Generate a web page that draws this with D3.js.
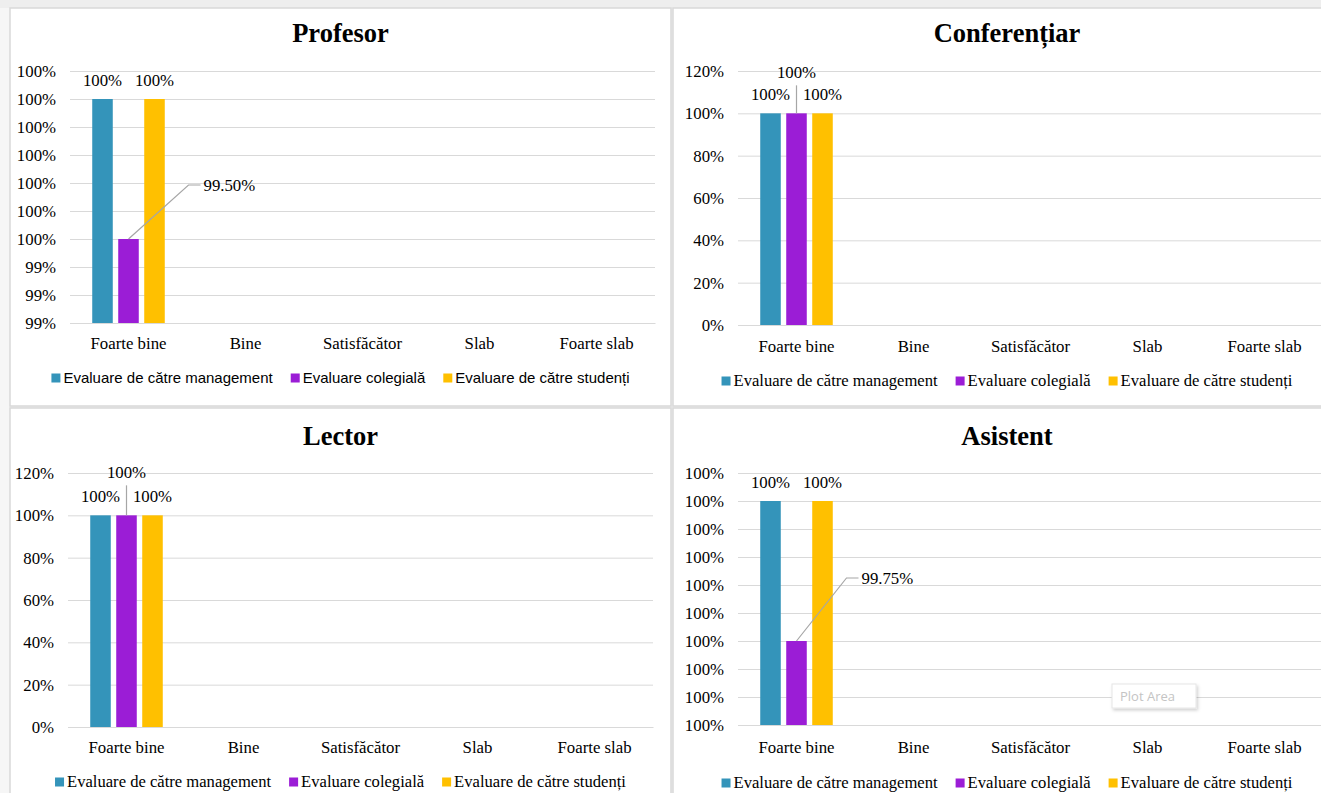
<!DOCTYPE html>
<html>
<head>
<meta charset="utf-8">
<script src="https://cdn.jsdelivr.net/npm/d3@7"></script>
<style>
    body { margin: 0; background: #eeeeee; overflow: hidden; }
</style>
</head>
<body>
<div id="chart"></div>
<script>
// categories and series
const categories = ["Foarte bine", "Bine", "Satisfăcător", "Slab", "Foarte slab"];
const seriesNames = ["Evaluare de către management", "Evaluare colegială", "Evaluare de către studenți"];
const seriesColors = ["#3494ba", "#9b1dd6", "#ffc000"];

// values per panel (null = no bar)
const profesorManagement = [1, null, null, null, null];
const profesorColegiala = [0.995, null, null, null, null];
const profesorStudenti = [1, null, null, null, null];

const conferentiarManagement = [1, null, null, null, null];
const conferentiarColegiala = [1, null, null, null, null];
const conferentiarStudenti = [1, null, null, null, null];

const lectorManagement = [1, null, null, null, null];
const lectorColegiala = [1, null, null, null, null];
const lectorStudenti = [1, null, null, null, null];

const asistentManagement = [1, null, null, null, null];
const asistentColegiala = [0.9975, null, null, null, null];
const asistentStudenti = [1, null, null, null, null];

// y tick values
const profesorTicks = [0.992, 0.993, 0.994, 0.995, 0.996, 0.997, 0.998, 0.999, 1.000, 1.001];
const percentTicks = [0, 0.2, 0.4, 0.6, 0.8, 1.0, 1.2];
const asistentTicks = [0.996, 0.9965, 0.997, 0.9975, 0.998, 0.9985, 0.999, 0.9995, 1.000, 1.0005];

const serif = "'Liberation Serif', 'Times New Roman', serif";
const sans = "'Liberation Sans', Arial, sans-serif";
const fs = 16.8;

const W = 1321, H = 793;
const svg = d3.select("#chart").append("svg")
    .attr("width", W)
    .attr("height", H);

const defs = svg.append("defs");
const shadow = defs.append("filter").attr("id", "shadow").attr("x", "-20%").attr("y", "-20%").attr("width", "150%").attr("height", "180%");
shadow.append("feDropShadow").attr("dx", 1.5).attr("dy", 2).attr("stdDeviation", 1.5).attr("flood-color", "#000").attr("flood-opacity", 0.18);

svg.append("rect").attr("x", 0).attr("y", 8).attr("width", 10).attr("height", H).attr("fill", "#f6f6f6");

const yPct = v => Math.round(+(v * 100).toFixed(6)) + "%";
const labelFmt = v => v === 1 ? "100%" : d3.format(".2%")(v);

const panels = [
    {
        title: "Profesor", values: [profesorManagement, profesorColegiala, profesorStudenti], ticks: profesorTicks,
        box: { x: 10, y: 8, w: 661, h: 398 }, titleY: 42,
        plot: { left: 70, right: 655, top: 71, bottom: 323 }, xPad: 14,
        legendY: 378, legendFont: sans, legendSize: 15,
        special: { dx: 75, dy: -54, elbow: true }
    },
    {
        title: "Conferențiar", values: [conferentiarManagement, conferentiarColegiala, conferentiarStudenti], ticks: percentTicks,
        box: { x: 673, y: 8, w: 668, h: 398 }, titleY: 42,
        plot: { left: 738, right: 1323, top: 71, bottom: 325 }, xPad: 15,
        legendY: 381, legendFont: serif, legendSize: 16.6,
        special: { dx: 0, dy: -41, elbow: false }
    },
    {
        title: "Lector", values: [lectorManagement, lectorColegiala, lectorStudenti], ticks: percentTicks,
        box: { x: 10, y: 408, w: 661, h: 400 }, titleY: 445,
        plot: { left: 68, right: 653, top: 473, bottom: 727 }, xPad: 14,
        legendY: 782, legendFont: serif, legendSize: 16.6,
        special: { dx: 0, dy: -43, elbow: false }
    },
    {
        title: "Asistent", values: [asistentManagement, asistentColegiala, asistentStudenti], ticks: asistentTicks,
        box: { x: 673, y: 408, w: 668, h: 400 }, titleY: 445,
        plot: { left: 738, right: 1323, top: 473, bottom: 725 }, xPad: 16,
        legendY: 783, legendFont: serif, legendSize: 16.6,
        special: { dx: 65, dy: -63, elbow: true }
    }
];

panels.forEach(drawPanel);

// "Plot Area" hover tip seen on the Asistent chart
const tip = svg.append("g").attr("transform", "translate(1112,684)");
tip.append("rect")
    .attr("width", 84).attr("height", 24)
    .attr("fill", "#fff").attr("stroke", "#e6e6e6")
    .attr("filter", "url(#shadow)");
tip.append("text")
    .attr("x", 8).attr("y", 17)
    .attr("font-family", "'Open Sans', sans-serif").attr("font-size", 13)
    .attr("fill", "#c4c4c4")
    .text("Plot Area");

function drawPanel(cfg) {
    const g = svg.append("g");
    const p = cfg.plot;

    // chart area
    g.append("rect")
        .attr("x", cfg.box.x).attr("y", cfg.box.y)
        .attr("width", cfg.box.w).attr("height", cfg.box.h)
        .attr("fill", "#fff").attr("stroke", "#d9d9d9").attr("stroke-width", 1.5);

    g.append("text")
        .attr("x", cfg.box.x + cfg.box.w / 2).attr("y", cfg.titleY)
        .attr("text-anchor", "middle")
        .attr("font-family", serif).attr("font-size", 26.5).attr("font-weight", "bold")
        .attr("fill", "#000")
        .text(cfg.title);

    const y = d3.scaleLinear().domain(d3.extent(cfg.ticks)).range([p.bottom, p.top]);
    const x0 = d3.scaleBand().domain(categories).range([p.left, p.right]);
    const x1 = d3.scaleBand().domain(seriesNames).range([0, x0.bandwidth()])
        .paddingInner(0.21).paddingOuter(0.855);

    // y axis with gridlines
    const yAxis = g.append("g")
        .attr("transform", "translate(" + p.left + ",0)")
        .call(d3.axisLeft(y).tickValues(cfg.ticks).tickFormat(yPct)
            .tickSize(-(p.right - p.left)).tickPadding(14));
    yAxis.select(".domain").remove();
    yAxis.selectAll("line").attr("stroke", "#d9d9d9");
    yAxis.selectAll("text")
        .attr("font-family", serif).attr("font-size", fs).attr("fill", "#000");

    // x axis
    const xAxis = g.append("g")
        .attr("transform", "translate(0," + p.bottom + ")")
        .call(d3.axisBottom(x0).tickSize(0).tickPadding(cfg.xPad));
    xAxis.select(".domain").attr("stroke", "#d9d9d9");
    xAxis.selectAll("text")
        .attr("font-family", serif).attr("font-size", fs).attr("fill", "#000");

    // bars
    const minV = y.domain()[0];
    const rows = [];
    cfg.values.forEach((vals, si) => {
        vals.forEach((v, ci) => {
            if (v !== null && v > minV) rows.push({ s: si, c: ci, v: v });
        });
    });

    g.selectAll(".bar").data(rows).join("rect")
        .attr("class", "bar")
        .attr("x", d => x0(categories[d.c]) + x1(seriesNames[d.s]))
        .attr("y", d => y(d.v))
        .attr("width", x1.bandwidth())
        .attr("height", d => p.bottom - y(d.v))
        .attr("fill", d => seriesColors[d.s]);

    // data labels
    rows.forEach(d => {
        const cx = x0(categories[d.c]) + x1(seriesNames[d.s]) + x1.bandwidth() / 2;
        const top = y(d.v);
        const label = g.append("text")
            .attr("font-family", serif).attr("font-size", fs).attr("fill", "#000")
            .text(labelFmt(d.v));
        if (d.s === 1) {
            const sp = cfg.special;
            const ly = top + sp.dy;
            if (sp.elbow) {
                const lx = cx + sp.dx;
                g.append("path")
                    .attr("d", "M" + cx + "," + top + "L" + (lx - 15) + "," + ly + "L" + (lx - 3) + "," + ly)
                    .attr("fill", "none").attr("stroke", "#a6a6a6").attr("stroke-width", 1.2);
                label.attr("x", lx).attr("y", ly + 6);
            } else {
                g.append("line")
                    .attr("x1", cx).attr("x2", cx)
                    .attr("y1", top).attr("y2", ly + 13)
                    .attr("stroke", "#a6a6a6").attr("stroke-width", 1.2);
                label.attr("x", cx).attr("y", ly + 6).attr("text-anchor", "middle");
            }
        } else {
            label.attr("x", cx).attr("y", top - 13).attr("text-anchor", "middle");
        }
    });

    // legend, centred on the chart area
    const legend = g.append("g");
    let pos = 0;
    seriesNames.forEach((name, i) => {
        const item = legend.append("g").attr("transform", "translate(" + pos + ",0)");
        item.append("rect")
            .attr("x", 0).attr("y", cfg.legendY - 4.5)
            .attr("width", 9).attr("height", 9)
            .attr("fill", seriesColors[i]);
        const t = item.append("text")
            .attr("x", 12).attr("y", cfg.legendY + 5)
            .attr("font-family", cfg.legendFont).attr("font-size", cfg.legendSize)
            .attr("fill", "#000")
            .text(name);
        pos += 12 + t.node().getComputedTextLength() + 18;
    });
    const total = pos - 18;
    legend.attr("transform", "translate(" + (cfg.box.x + cfg.box.w / 2 - total / 2) + ",0)");
}
</script>
</body>
</html>
